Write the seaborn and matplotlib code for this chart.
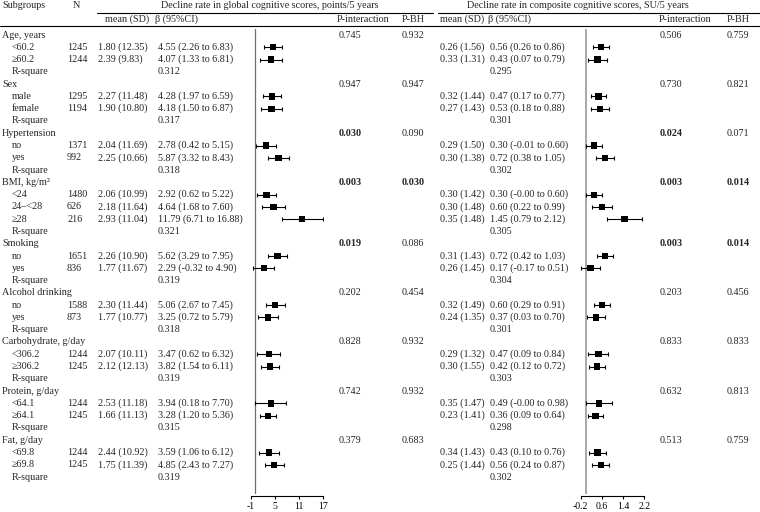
import numpy as np
import pandas as pd
import matplotlib.pyplot as plt
import seaborn as sns

# group level values
group_names = ["Age, years", "Sex", "Hypertension", "BMI, kg/m²", "Smoking",
               "Alcohol drinking", "Carbohydrate, g/day", "Protein, g/day", "Fat, g/day"]
group_sizes = [2, 2, 2, 3, 2, 2, 2, 2, 2]
r2_g = [0.312, 0.317, 0.318, 0.321, 0.319, 0.318, 0.319, 0.315, 0.319]
r2_c = [0.295, 0.301, 0.302, 0.305, 0.304, 0.301, 0.303, 0.298, 0.302]
pint_g = [0.745, 0.947, 0.030, 0.003, 0.019, 0.202, 0.828, 0.742, 0.379]
pbh_g = [0.932, 0.947, 0.090, 0.030, 0.086, 0.454, 0.932, 0.932, 0.683]
pint_c = [0.506, 0.730, 0.024, 0.003, 0.003, 0.203, 0.833, 0.632, 0.513]
pbh_c = [0.759, 0.821, 0.071, 0.014, 0.014, 0.456, 0.833, 0.813, 0.759]

# level values
level_labels = ["<60.2", "≥60.2", "male", "female", "no", "yes", "<24", "24–<28", "≥28",
                "no", "yes", "no", "yes", "<306.2", "≥306.2", "<64.1", "≥64.1", "<69.8", "≥69.8"]
n_obs = [1245, 1244, 1295, 1194, 1371, 992, 1480, 626, 216, 1651, 836, 1588, 873,
         1244, 1245, 1244, 1245, 1244, 1245]

mean_g = [1.80, 2.39, 2.27, 1.90, 2.04, 2.25, 2.06, 2.18, 2.93, 2.26, 1.77, 2.30, 1.77,
          2.07, 2.12, 2.53, 1.66, 2.44, 1.75]
sd_g = [12.35, 9.83, 11.48, 10.80, 11.69, 10.66, 10.99, 11.64, 11.04, 10.90, 11.67, 11.44,
        10.77, 10.11, 12.13, 11.18, 11.13, 10.92, 11.39]
beta_g = [4.55, 4.07, 4.28, 4.18, 2.78, 5.87, 2.92, 4.64, 11.79, 5.62, 2.29, 5.06, 3.25,
          3.47, 3.82, 3.94, 3.28, 3.59, 4.85]
lo_g = [2.26, 1.33, 1.97, 1.50, 0.42, 3.32, 0.62, 1.68, 6.71, 3.29, -0.32, 2.67, 0.72,
        0.62, 1.54, 0.18, 1.20, 1.06, 2.43]
hi_g = [6.83, 6.81, 6.59, 6.87, 5.15, 8.43, 5.22, 7.60, 16.88, 7.95, 4.90, 7.45, 5.79,
        6.32, 6.11, 7.70, 5.36, 6.12, 7.27]

mean_c = [0.26, 0.33, 0.32, 0.27, 0.29, 0.30, 0.30, 0.30, 0.35, 0.31, 0.26, 0.32, 0.24,
          0.29, 0.30, 0.35, 0.23, 0.34, 0.25]
sd_c = [1.56, 1.31, 1.44, 1.43, 1.50, 1.38, 1.42, 1.48, 1.48, 1.43, 1.45, 1.49, 1.35,
        1.32, 1.55, 1.47, 1.41, 1.43, 1.44]
beta_c = [0.56, 0.43, 0.47, 0.53, 0.30, 0.72, 0.30, 0.60, 1.45, 0.72, 0.17, 0.60, 0.37,
          0.47, 0.42, 0.49, 0.36, 0.43, 0.56]
lo_c = [0.26, 0.07, 0.17, 0.18, -0.01, 0.38, -0.0, 0.22, 0.79, 0.42, -0.17, 0.29, 0.03,
        0.09, 0.12, -0.0, 0.09, 0.10, 0.24]
hi_c = [0.86, 0.79, 0.77, 0.88, 0.60, 1.05, 0.60, 0.99, 2.12, 1.03, 0.51, 0.91, 0.70,
        0.84, 0.72, 0.98, 0.64, 0.76, 0.87]

ticks_g = [-1, 5, 11, 17]
ticks_c = [-0.2, 0.6, 1.4, 2.2]

sns.set_theme(style="white")
plt.rcParams['font.family'] = ['Liberation Serif', 'DejaVu Serif']
plt.rcParams['axes.unicode_minus'] = False
FS = 7.3

W, H = 760, 512
fig = plt.figure(figsize=(W / 100, H / 100), dpi=100)
bg = fig.add_axes([0, 0, 1, 1])
bg.set_xlim(0, W)
bg.set_ylim(H, 0)
bg.axis('off')

row0, step = 35.0, 12.28

def txt(x, y, s, bold=False, ha='left'):
    bg.text(x, y, s, fontsize=FS, ha=ha, va='center',
            fontweight='bold' if bold else 'normal')

# header
txt(2, 6, "Subgroups")
txt(73, 6, "N")
txt(270, 6, "Decline rate in global cognitive scores, points/5 years", ha='center')
txt(578, 6, "Decline rate in composite cognitive scores, SU/5 years", ha='center')
bg.plot([97, 433], [12.5, 12.5], color='black', lw=0.8)
bg.plot([438, 760], [12.5, 12.5], color='black', lw=0.8)
txt(105, 19, "mean (SD)")
txt(155, 19, "β (95%CI)")
txt(337, 19, "P-interaction")
txt(402, 19, "P-BH")
txt(440, 19, "mean (SD)")
txt(488, 19, "β (95%CI)")
txt(659, 19, "P-interaction")
txt(727, 19, "P-BH")
bg.plot([0, 760], [25.5, 25.5], color='black', lw=0.8)

# table body
rows = []
row = 0
k = 0
for gi, name in enumerate(group_names):
    y = row0 + step * row
    txt(2, y, name)
    txt(339, y, f"{pint_g[gi]:.3f}", bold=pint_g[gi] < 0.05)
    txt(402, y, f"{pbh_g[gi]:.3f}", bold=pbh_g[gi] < 0.05)
    txt(660, y, f"{pint_c[gi]:.3f}", bold=pint_c[gi] < 0.05)
    txt(727, y, f"{pbh_c[gi]:.3f}", bold=pbh_c[gi] < 0.05)
    row += 1
    for _ in range(group_sizes[gi]):
        y = row0 + step * row
        txt(12, y, level_labels[k])
        txt(67, y, str(n_obs[k]))
        txt(98, y, f"{mean_g[k]:.2f} ({sd_g[k]:.2f})")
        txt(158, y, f"{beta_g[k]:.2f} ({lo_g[k]:.2f} to {hi_g[k]:.2f})")
        txt(440, y, f"{mean_c[k]:.2f} ({sd_c[k]:.2f})")
        txt(490, y, f"{beta_c[k]:.2f} ({lo_c[k]:.2f} to {hi_c[k]:.2f})")
        rows.append(row)
        row += 1
        k += 1
    y = row0 + step * row
    txt(12, y, "R-square")
    txt(158, y, f"{r2_g[gi]:.3f}")
    txt(490, y, f"{r2_c[gi]:.3f}")
    row += 1

df = pd.DataFrame({"row": rows, "beta_g": beta_g, "lo_g": lo_g, "hi_g": hi_g,
                   "beta_c": beta_c, "lo_c": lo_c, "hi_c": hi_c})

# forest panels
px_top, px_bot = 29, 494

def forest(x0, x1, col, ticks, line_color, line_w):
    ax = fig.add_axes([x0 / W, (H - px_bot) / H, (x1 - x0) / W, (px_bot - px_top) / H])
    ax.set_facecolor('none')
    ax.axvline(0, color=line_color, lw=line_w, zorder=1)
    sfx = col[-2:]
    ax.errorbar(df[col], df["row"],
                xerr=[df[col] - df["lo" + sfx], df["hi" + sfx] - df[col]],
                fmt='none', ecolor='black', elinewidth=0.8, capsize=1.6, capthick=0.8, zorder=2)
    sns.scatterplot(data=df, x=col, y="row", marker='s', color='black', s=20,
                    edgecolor='none', ax=ax, zorder=3, legend=False)
    ax.set_xlim(ticks[0], ticks[-1])
    ax.set_ylim((px_bot - row0) / step, (px_top - row0) / step)
    ax.set_xticks(ticks, [f"{t:g}" for t in ticks])
    ax.set_yticks([])
    ax.set_xlabel("")
    ax.set_ylabel("")
    for s in ["left", "right", "top"]:
        ax.spines[s].set_visible(False)
    ax.spines["bottom"].set_position(("outward", 1.5))
    ax.spines["bottom"].set_color("black")
    ax.spines["bottom"].set_linewidth(0.8)
    ax.tick_params(axis='x', bottom=True, length=2.5, width=0.8, color='black',
                   pad=1.5, labelsize=7, labelcolor='black')
    return ax

forest(250.7, 323.3, "beta_g", ticks_g, "#707070", 0.9)
forest(580.7, 644.3, "beta_c", ticks_c, "#a8a8a8", 1.4)

fig.savefig("out.png", dpi=100)
